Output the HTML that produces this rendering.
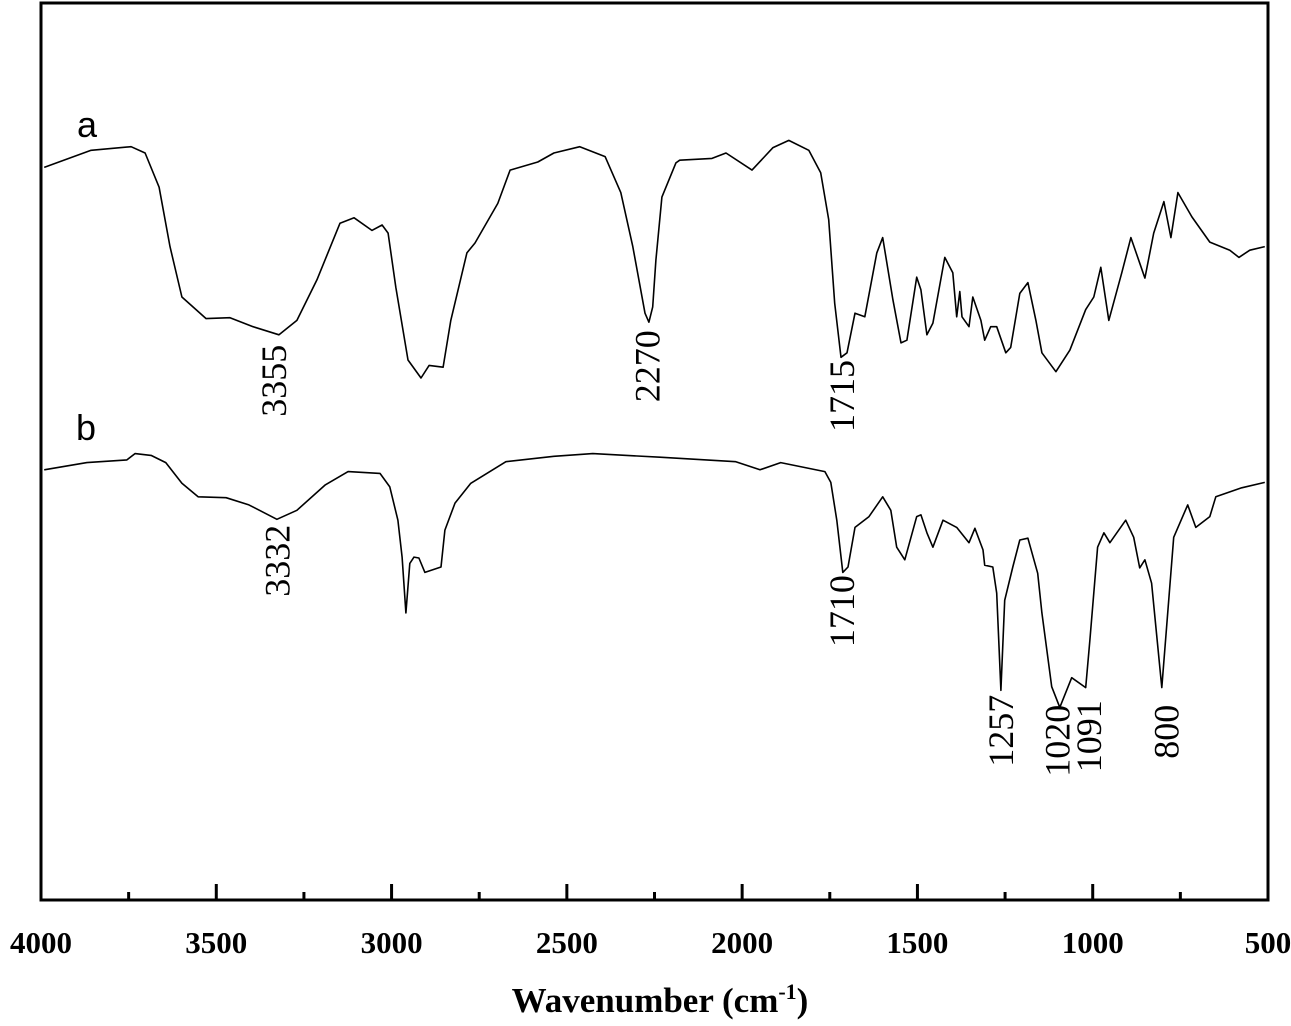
<!DOCTYPE html>
<html><head><meta charset="utf-8"><style>
html,body{margin:0;padding:0;background:#fff;}
svg{display:block;}
</style></head><body>
<svg id="chart" width="1291" height="1026" viewBox="0 0 1291 1026" xmlns="http://www.w3.org/2000/svg">
<g id="plot"></g>
</svg>
<script>
const wnA = [3991,3857,3743,3703,3663,3632,3598,3529,3461,3395,3321,3270,3213,3147,3107,3056,3027,3010,2988,2953,2916,2893,2853,2831,2785,2762,2697,2662,2583,2537,2463,2391,2346,2312,2277,2266,2255,2246,2229,2189,2178,2086,2046,1972,1912,1867,1810,1776,1753,1736,1718,1701,1678,1650,1616,1599,1570,1547,1530,1502,1490,1473,1456,1422,1399,1388,1379,1373,1353,1342,1319,1308,1291,1274,1248,1234,1208,1185,1162,1145,1105,1065,1020,997,977,954,917,891,851,826,797,777,757,717,666,609,583,552,509];
const tA = [81.4,83.3,83.7,83.0,79.2,72.6,67.0,64.6,64.7,63.7,62.8,64.4,68.9,75.2,75.8,74.4,75.0,74.1,68.1,60.0,58.0,59.4,59.2,64.4,71.9,73.0,77.4,81.1,82.0,83.0,83.7,82.6,78.6,72.6,65.2,64.2,65.9,71.1,78.1,81.9,82.2,82.4,83.0,81.1,83.6,84.4,83.3,80.8,75.6,66.3,60.3,60.8,65.2,64.8,71.9,73.6,66.7,61.9,62.2,69.2,67.8,62.8,64.1,71.4,69.7,64.8,67.6,64.8,63.7,67.0,64.4,62.2,63.7,63.7,60.8,61.4,67.4,68.6,64.4,60.8,58.7,61.1,65.6,67.0,70.3,64.4,69.7,73.6,69.1,74.1,77.6,73.6,78.6,75.9,73.1,72.2,71.4,72.2,72.6];
const wnB = [3991,3869,3755,3732,3686,3644,3598,3552,3472,3407,3327,3270,3190,3124,3033,3005,2982,2970,2959,2948,2936,2922,2905,2859,2848,2819,2774,2674,2537,2426,2235,2018,1949,1890,1764,1747,1730,1713,1698,1678,1638,1599,1576,1559,1536,1502,1490,1473,1456,1427,1388,1353,1336,1313,1308,1285,1274,1262,1251,1228,1208,1185,1157,1145,1117,1094,1060,1020,1008,986,968,951,906,883,866,851,832,803,769,729,706,666,649,575,509];
const tB = [47.8,48.6,48.9,49.6,49.4,48.6,46.3,44.8,44.7,43.9,42.3,43.3,46.1,47.6,47.4,45.9,42.2,38.1,31.9,37.4,38.1,38.0,36.4,37.0,41.1,44.1,46.3,48.7,49.3,49.6,49.2,48.7,47.8,48.6,47.6,46.4,42.2,36.4,37.0,41.4,42.6,44.8,43.3,39.2,37.8,42.6,42.8,40.8,39.2,42.2,41.4,39.7,41.3,38.9,37.2,37.0,34.1,23.3,33.3,37.0,40.0,40.2,36.3,31.9,23.7,21.4,24.7,23.6,28.9,39.2,40.8,39.7,42.2,40.3,36.9,37.8,35.2,23.6,40.3,43.9,41.4,42.6,44.8,45.8,46.4];
const majorTicks = [4000,3500,3000,2500,2000,1500,1000,500];
const minorTicks = [3750,3250,2750,2250,1750,1250,750];
const peakLabels = ["3355","2270","1715","3332","1710","1257","1020","1091","800"];
const peakWn = [3335,2270,1715,3325,1715,1262,1100,1010,790];
const peakT = [61.7,63.3,60.0,41.7,36.1,22.8,21.7,22.2,21.7];

const X0=41, X1=1268, Y0=900, Y1=3;
const xs = w => X0 + (4000 - w) * (X1 - X0) / 3500;
const ys = t => Y0 - t * 9;
const NS="http://www.w3.org/2000/svg";
const g=document.getElementById('plot');
function mk(tag, attrs, parent){const e=document.createElementNS(NS,tag);for(const k in attrs)e.setAttribute(k,attrs[k]);(parent||g).appendChild(e);return e;}

const frame=mk('rect',{x:X0,y:Y1,width:X1-X0,height:Y0-Y1,fill:'none',stroke:'#000','stroke-width':3});



majorTicks.forEach(v=>{
  const t=mk('line',{x1:xs(v),x2:xs(v),y1:Y0,y2:Y0-16,stroke:'#000','stroke-width':3});
  
  
  const l=mk('text',{x:xs(v),y:953,'text-anchor':'middle','font-family':'Liberation Serif, serif','font-weight':'bold','font-size':31});
  l.textContent=v;
  
  
});
minorTicks.forEach(v=>{
  const t=mk('line',{x1:xs(v),x2:xs(v),y1:Y0,y2:Y0-8,stroke:'#000','stroke-width':3});
  
  
});

function path(wn,t,name){
  let d='';
  for(let i=0;i<wn.length;i++) d+=(i?'L':'M')+xs(wn[i]).toFixed(1)+','+ys(t[i]).toFixed(1);
  const p=mk('path',{d:d,fill:'none',stroke:'#000','stroke-width':1.6,'stroke-linejoin':'round'});
  
  
}
path(wnA,tA,'spectrum-a');
path(wnB,tB,'spectrum-b');

peakLabels.forEach((s,i)=>{
  const x=xs(peakWn[i]), y=ys(peakT[i]);
  const l=mk('text',{x:0,y:0,transform:`translate(${x+12},${y}) rotate(-90)`,'text-anchor':'end','font-family':'Liberation Serif, serif','font-size':36});
  l.textContent=s;
  
  
});

const la=mk('text',{x:77,y:137,'font-family':'Liberation Sans, sans-serif','font-size':36});
la.textContent='a';


const lb=mk('text',{x:76,y:440,'font-family':'Liberation Sans, sans-serif','font-size':36});
lb.textContent='b';



const title=mk('text',{x:660,y:1012,'text-anchor':'middle','font-family':'Liberation Serif, serif','font-weight':'bold','font-size':35});


title.appendChild(document.createTextNode('Wavenumber (cm'));
const sup=document.createElementNS(NS,'tspan');
sup.setAttribute('font-size','22');sup.setAttribute('dy','-13');
sup.textContent='-1';
title.appendChild(sup);
const cl=document.createElementNS(NS,'tspan');
cl.setAttribute('dy','13');cl.textContent=')';
title.appendChild(cl);
</script>
</body></html>
